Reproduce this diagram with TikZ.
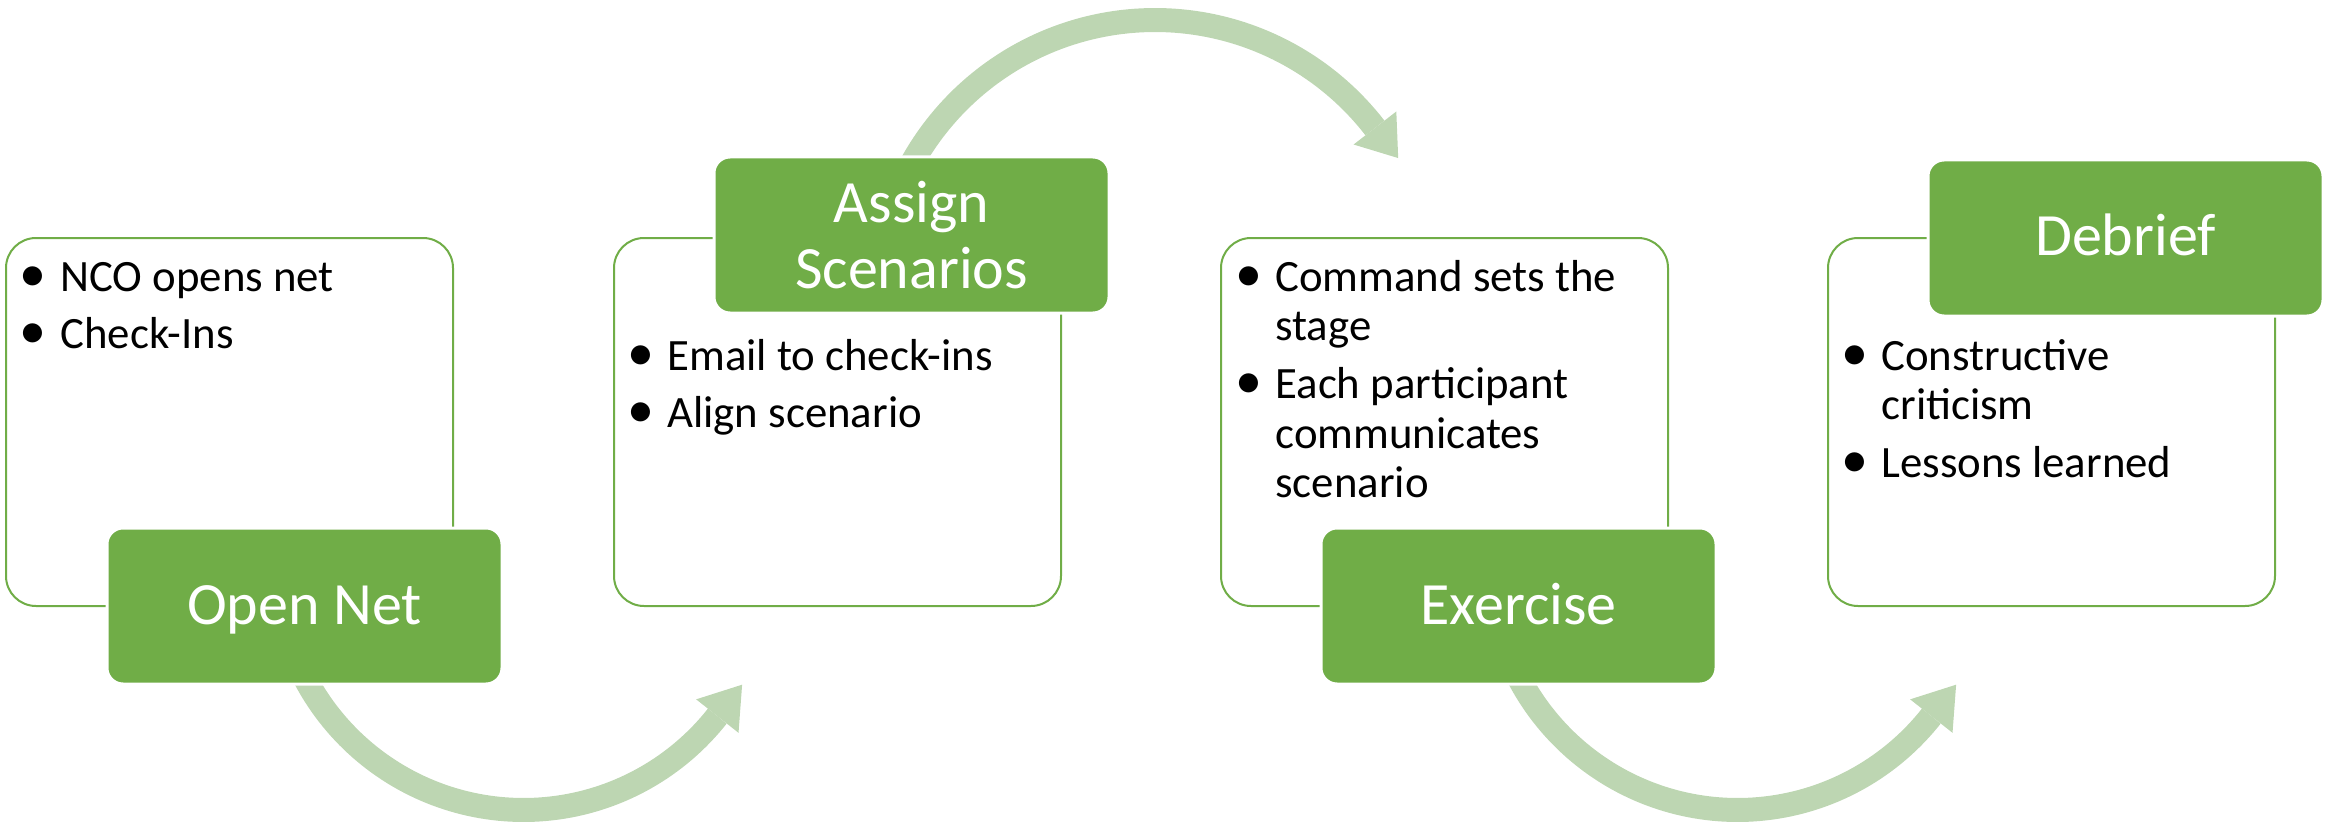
\documentclass[tikz,border=0pt]{standalone}
\usepackage{fontspec}
\setmainfont{Carlito}
\usetikzlibrary{calc}
\definecolor{gr}{RGB}{112,173,71}
\definecolor{lg}{RGB}{189,214,178}
\begin{document}
\begin{tikzpicture}[x=0.5pt,y=-0.5pt,
  wbox/.style={draw=gr, line width=1pt, fill=white, rounded corners=15pt,
    minimum width=223.5pt, minimum height=184pt, inner sep=0pt, outer sep=0pt, anchor=north west},
  gbox/.style={draw=white, line width=1.5pt, fill=gr, rounded corners=8pt,
    minimum width=197.5pt, minimum height=78pt, inner sep=0pt, outer sep=0pt, anchor=north west,
    text=white, font=\fontsize{30}{33}\selectfont, align=center},
  ttl/.style={text height=20pt, text depth=2pt},
  bul/.style={anchor=base, inner sep=0pt, font=\fontsize{27}{24.5}\selectfont},
  itm/.style={anchor=base west, inner sep=0pt, font=\fontsize{22.4}{24.5}\selectfont},
  band/.style={draw=lg, line width=12pt, line cap=butt},
  head/.style={fill=lg}
]
\useasboundingbox (0,0) rectangle (2336,824);
% arc centres
\coordinate (c1) at (523.5,563);
\coordinate (c2) at (1155,298);
\coordinate (c3) at (1737.5,563);
% arrows (behind the boxes)
\draw[band, shift={(c1)}] plot[domain=160:38.3, samples=90] (\x:247);
\fill[head] ($(c1)+(38.3:274)$) -- ($(c1)+(38.3:247)+(-51.7:40)$) -- ($(c1)+(38.3:220)$) -- cycle;
\draw[band, shift={(c2)}] plot[domain=-160:-37.7, samples=90] (\x:278);
\fill[head] ($(c2)+(-37.7:305)$) -- ($(c2)+(-37.7:278)+(52.3:38)$) -- ($(c2)+(-37.7:251)$) -- cycle;
\draw[band, shift={(c3)}] plot[domain=160:38.3, samples=90] (\x:247);
\fill[head] ($(c3)+(38.3:274)$) -- ($(c3)+(38.3:247)+(-51.7:40)$) -- ($(c3)+(38.3:220)$) -- cycle;
% white boxes
\node[wbox] (w1) at (6,238) {};
\node[wbox] (w2) at (614,238) {};
\node[wbox] (w3) at (1221,238) {};
\node[wbox] (w4) at (1828,238) {};
% green title boxes
\node[gbox, ttl] (g1) at (107,528) {Open Net};
\node[gbox, yshift=1.5pt] (g2) at (714,160) {Assign\\Scenarios};
\node[gbox, ttl] (g3) at (1321,528) {Exercise};
\node[gbox, ttl] (g4) at (1928,160) {Debrief};
% box 1 text
\node[bul] (b1a) at (33,291) {•};
\node[itm] (t1a) at (60,291) {NCO opens net};
\node[bul] (b1b) at (33,348) {•};
\node[itm] (t1b) at (60,348) {Check-Ins};
% box 2 text
\node[bul] (b2a) at (641,370) {•};
\node[itm] (t2a) at (667,370) {Email to check-ins};
\node[bul] (b2b) at (641,427) {•};
\node[itm] (t2b) at (667,427) {Align scenario};
% box 3 text
\node[bul] (b3a) at (1249,291) {•};
\node[itm] (t3a) at (1275,291) {Command sets the};
\node[itm] (t3b) at (1275,340) {stage};
\node[bul] (b3c) at (1249,398) {•};
\node[itm] (t3c) at (1275,398) {Each participant};
\node[itm] (t3d) at (1275,448) {communicates};
\node[itm] (t3e) at (1275,497) {scenario};
% box 4 text
\node[bul] (b4a) at (1855,370) {•};
\node[itm] (t4a) at (1881,370) {Constructive};
\node[itm] (t4b) at (1881,419) {criticism};
\node[bul] (b4c) at (1855,477) {•};
\node[itm] (t4c) at (1881,477) {Lessons learned};
\end{tikzpicture}
\end{document}
